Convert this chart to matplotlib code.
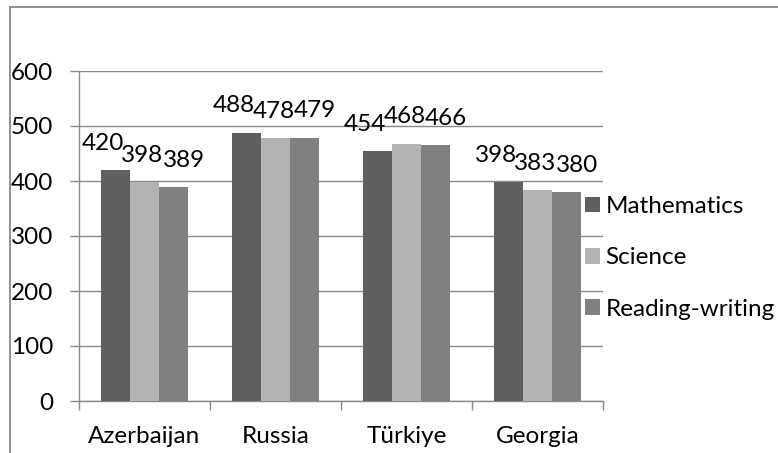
import matplotlib
matplotlib.use("Agg")
import matplotlib.pyplot as plt
from matplotlib.lines import Line2D
from matplotlib.patches import Patch
import numpy as np

plt.rcParams['font.family'] = ['Lato', 'DejaVu Sans']

countries = ["Azerbaijan", "Russia", "Türkiye", "Georgia"]
subjects = ["Mathematics", "Science", "Reading-writing"]
mathematics = [420, 488, 454, 398]
science = [398, 478, 468, 383]
reading_writing = [389, 479, 466, 380]
y_ticks = [0, 100, 200, 300, 400, 500, 600]

series = [mathematics, science, reading_writing]
colors = ["#5f5f5f", "#b3b3b3", "#808080"]
# horizontal nudges (points) so neighbouring value labels sit side by side
label_dx = [-9.0, -1.5, 7.5]
grid_color = "#898989"
fs = 17.5

W, H = 778, 453
fig = plt.figure(figsize=(W / 100, H / 100), dpi=100)
ax = fig.add_axes([79 / W, (H - 401) / H, 524 / W, 330 / H])

x = np.arange(len(countries))
bw = 29 / 131
for i, (vals, col) in enumerate(zip(series, colors)):
    pos = x + (i - 1) * bw
    ax.bar(pos, vals, width=bw, color=col, zorder=3, label=subjects[i])
    for p, v in zip(pos, vals):
        ax.annotate(str(v), (p, v), xytext=(label_dx[i], 14.5),
                    textcoords="offset points", ha="center", va="baseline",
                    fontsize=fs, color="black", zorder=4, annotation_clip=False)

ax.set_xlim(-0.5, len(countries) - 0.5)
ax.set_ylim(0, 600)
ax.set_yticks(y_ticks)
ax.set_yticklabels([str(t) for t in y_ticks], fontsize=fs)
ax.yaxis.grid(True, color=grid_color, linewidth=1.0, zorder=0)
ax.tick_params(axis="y", length=6.5, width=1.0, color=grid_color, pad=12)

# category boundaries as major ticks, names centred as minor ticks
ax.set_xticks(np.arange(-0.5, len(countries)), labels=[])
ax.set_xticks(x, labels=countries, minor=True)
ax.tick_params(axis="x", which="major", length=6.5, width=1.0, color=grid_color)
ax.tick_params(axis="x", which="minor", length=0, pad=18, labelsize=fs)

for s in ["top", "right"]:
    ax.spines[s].set_visible(False)
for s in ["left", "bottom"]:
    ax.spines[s].set_color(grid_color)
    ax.spines[s].set_linewidth(1.0)

handles = [Patch(facecolor=c, edgecolor="none") for c in colors]
fig.legend(handles, subjects, loc="center left",
           bbox_to_anchor=(585 / W, (H - 258) / H), frameon=False,
           fontsize=fs, handlelength=0.62, handleheight=0.62,
           handletextpad=0.22, labelspacing=1.25, borderpad=0, borderaxespad=0)

# outer chart frame (extends past the right and bottom edges)
fig.add_artist(Line2D([9.5 / W, 9.5 / W], [(H - 6.5) / H, -0.05],
                      color=grid_color, linewidth=1.3, transform=fig.transFigure))
fig.add_artist(Line2D([9.5 / W, 1.05], [(H - 6.5) / H, (H - 6.5) / H],
                      color=grid_color, linewidth=1.3, transform=fig.transFigure))

fig.savefig("out.png", dpi=100)
